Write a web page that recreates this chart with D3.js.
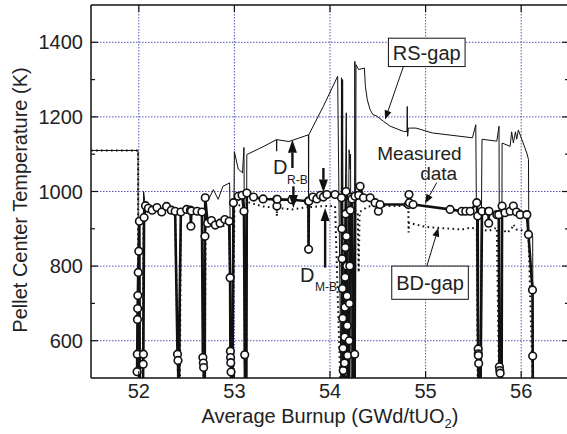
<!DOCTYPE html>
<html>
<head>
<meta charset="utf-8">
<script src="https://cdn.jsdelivr.net/npm/d3@7"></script>
<style>
  body { margin: 0; background: #fff; }
  text { font-family: "Liberation Sans", Arial, Helvetica, sans-serif; fill: #222; }
</style>
</head>
<body>
<div id="chart"></div>
<script>
// ---- data ----
const measuredBurnup = [51.982, 51.984, 51.986, 51.988, 51.990, 51.994, 52.000, 52.006, 52.010, 52.044, 52.046, 52.048, 52.055, 52.070, 52.100, 52.140, 52.190, 52.240, 52.290, 52.340, 52.380, 52.405, 52.410, 52.415, 52.440, 52.500, 52.540, 52.545, 52.550, 52.610, 52.660, 52.670, 52.675, 52.678, 52.682, 52.690, 52.692, 52.695, 52.720, 52.760, 52.800, 52.850, 52.900, 52.945, 52.955, 52.958, 52.960, 52.962, 52.965, 52.970, 52.980, 52.990, 53.040, 53.080, 53.100, 53.108, 53.112, 53.125, 53.130, 53.200, 53.300, 53.444, 53.445, 53.448, 53.600, 53.774, 53.776, 53.779, 53.820, 53.862, 53.900, 53.931, 53.967, 54.053, 54.120, 54.124, 54.127, 54.130, 54.133, 54.136, 54.138, 54.140, 54.150, 54.152, 54.154, 54.156, 54.158, 54.160, 54.164, 54.168, 54.172, 54.175, 54.178, 54.181, 54.184, 54.188, 54.198, 54.201, 54.204, 54.207, 54.212, 54.220, 54.230, 54.240, 54.255, 54.258, 54.262, 54.300, 54.315, 54.350, 54.420, 54.472, 54.506, 54.524, 54.820, 54.826, 54.830, 54.869, 55.256, 55.379, 55.420, 55.466, 55.535, 55.545, 55.550, 55.551, 55.552, 55.555, 55.560, 55.575, 55.590, 55.657, 55.660, 55.663, 55.745, 55.765, 55.772, 55.776, 55.780, 55.785, 55.795, 55.800, 55.830, 55.884, 55.918, 55.950, 55.989, 56.059, 56.076, 56.118, 56.120, 56.122];
const measuredTemp = [517, 564, 657, 686, 721, 783, 840, 920, 470, 470, 537, 564, 930, 962, 955, 950, 957, 945, 960, 950, 947, 564, 547, 470, 945, 952, 950, 907, 948, 947, 945, 555, 540, 528, 470, 470, 880, 983, 915, 922, 910, 915, 925, 920, 769, 572, 555, 541, 516, 470, 470, 970, 987, 990, 947, 562, 470, 470, 996, 985, 980, 979, 961, 979, 978, 974, 845, 974, 985, 980, 990, 985, 992, 992, 983, 900, 820, 740, 660, 580, 520, 470, 470, 540, 610, 690, 770, 850, 940, 1000, 880, 800, 720, 640, 560, 470, 470, 600, 700, 800, 950, 985, 980, 470, 470, 564, 987, 990, 1014, 983, 983, 970, 947, 965, 965, 992, 970, 965, 952, 947, 947, 947, 970, 934, 578, 565, 560, 539, 470, 470, 947, 947, 915, 947, 938, 938, 530, 520, 513, 470, 470, 961, 943, 947, 961, 945, 938, 938, 885, 736, 559, 470];

const rsBurnup = [51.500, 51.992, 51.995, 52.040, 52.050, 52.070, 52.150, 52.250, 52.340, 52.380, 52.412, 52.430, 52.440, 52.600, 52.660, 52.680, 52.690, 52.700, 52.730, 52.780, 52.830, 52.880, 52.950, 52.955, 52.965, 52.980, 53.000, 53.040, 53.085, 53.100, 53.112, 53.122, 53.130, 53.300, 53.440, 53.442, 53.444, 53.570, 53.774, 53.776, 53.778, 53.930, 54.080, 54.115, 54.120, 54.126, 54.132, 54.140, 54.170, 54.176, 54.180, 54.200, 54.210, 54.215, 54.222, 54.255, 54.260, 54.266, 54.272, 54.300, 54.360, 54.370, 54.390, 54.420, 54.450, 54.490, 54.560, 54.630, 54.770, 54.805, 54.808, 54.812, 54.820, 54.900, 55.070, 55.490, 55.525, 55.545, 55.570, 55.590, 55.745, 55.768, 55.775, 55.795, 55.800, 55.884, 55.900, 55.918, 55.940, 55.953, 55.970, 56.006, 56.059, 56.076, 56.080, 56.120, 56.125];
const rsTemp = [1110, 1110, 470, 470, 1000, 960, 955, 950, 955, 950, 470, 470, 950, 950, 945, 470, 470, 975, 979, 1005, 979, 1014, 1023, 935, 470, 470, 1107, 1060, 1050, 1118, 470, 470, 1099, 1120, 1139, 1108, 1139, 1134, 1152, 985, 1152, 1228, 1309, 470, 1305, 470, 1300, 470, 1211, 980, 470, 1112, 1060, 1100, 470, 470, 1349, 470, 1340, 1327, 1331, 1282, 1246, 1219, 1206, 1202, 1188, 1175, 1161, 1161, 1228, 1148, 1170, 1170, 1157, 1144, 1179, 470, 470, 1140, 1135, 1175, 470, 470, 1130, 1121, 1160, 1130, 1160, 1140, 1165, 1140, 1103, 1086, 890, 880, 470];

const bdBurnup = [51.500, 51.992, 51.995, 52.040, 52.050, 52.150, 52.250, 52.380, 52.412, 52.430, 52.440, 52.660, 52.680, 52.690, 52.700, 52.750, 52.850, 52.945, 52.965, 52.980, 53.000, 53.100, 53.112, 53.122, 53.130, 53.300, 53.442, 53.444, 53.446, 53.600, 53.772, 53.775, 53.778, 53.930, 54.053, 54.110, 54.165, 54.168, 54.175, 54.255, 54.262, 54.290, 54.300, 54.310, 54.400, 54.520, 54.820, 54.822, 54.826, 55.000, 55.380, 55.470, 55.535, 55.545, 55.570, 55.590, 55.657, 55.745, 55.770, 55.795, 55.800, 55.850, 55.900, 55.918, 55.950, 55.989, 56.059, 56.076, 56.122];
const bdTemp = [1110, 1110, 470, 470, 955, 950, 945, 945, 470, 470, 943, 940, 470, 470, 915, 905, 905, 912, 470, 470, 960, 965, 470, 470, 972, 960, 956, 934, 956, 952, 958, 835, 958, 961, 961, 470, 470, 960, 470, 470, 950, 943, 783, 945, 960, 961, 961, 890, 916, 905, 898, 903, 900, 470, 470, 898, 894, 903, 470, 470, 900, 889, 900, 912, 898, 898, 889, 885, 470];

const xTicks = [52, 53, 54, 55, 56];
const yTicks = [600, 800, 1000, 1200, 1400];
const yMinorTicks = [700, 900, 1100, 1300];

// ---- layout ----
const W = 567, H = 434;
const plot = { left: 91, right: 569, top: 5, bottom: 378 };

const svg = d3.select("#chart").append("svg")
    .attr("width", W)
    .attr("height", H);

const x = d3.scaleLinear().domain([51.5, 56.5]).range([plot.left, plot.right]);
const y = d3.scaleLinear().domain([500, 1500]).range([plot.bottom, plot.top]);

svg.append("clipPath").attr("id", "clip")
    .append("rect")
    .attr("x", plot.left).attr("y", plot.top)
    .attr("width", plot.right - plot.left).attr("height", plot.bottom - plot.top);

// grid
const gridColor = "#4444b0";
svg.append("g").selectAll("line").data(xTicks).enter().append("line")
    .attr("x1", d => x(d)).attr("x2", d => x(d))
    .attr("y1", plot.top).attr("y2", plot.bottom)
    .attr("stroke", gridColor).attr("stroke-width", 0.9)
    .attr("stroke-dasharray", "1.5,1.5");
svg.append("g").selectAll("line").data(yTicks).enter().append("line")
    .attr("x1", plot.left).attr("x2", plot.right)
    .attr("y1", d => y(d)).attr("y2", d => y(d))
    .attr("stroke", gridColor).attr("stroke-width", 0.9)
    .attr("stroke-dasharray", "1.5,1.5");

// series
const pts = (xs, ys) => xs.map((b, i) => [b, ys[i]]);
const line = d3.line().x(d => x(d[0])).y(d => y(d[1]));
const data = svg.append("g").attr("clip-path", "url(#clip)");

data.append("path")
    .datum(pts(rsBurnup, rsTemp))
    .attr("d", line)
    .attr("fill", "none").attr("stroke", "#111").attr("stroke-width", 1);

data.append("path")
    .datum(pts(bdBurnup, bdTemp))
    .attr("d", line)
    .attr("fill", "none").attr("stroke", "#111").attr("stroke-width", 2)
    .attr("stroke-dasharray", "1.6,3.4");

const meas = pts(measuredBurnup, measuredTemp);
data.append("path")
    .datum(meas)
    .attr("d", line)
    .attr("fill", "none").attr("stroke", "#111").attr("stroke-width", 2.6)
    .attr("stroke-linejoin", "round");

data.selectAll(".meas-dot").data(meas).enter().append("circle")
    .attr("class", "meas-dot")
    .attr("cx", d => x(d[0])).attr("cy", d => y(d[1]))
    .attr("r", 3.8)
    .attr("fill", "#fff").attr("stroke", "#111").attr("stroke-width", 1.6);

// frame + ticks
const frame = svg.append("g").attr("stroke", "#111");
frame.append("line").attr("x1", plot.left).attr("x2", plot.right).attr("y1", plot.top).attr("y2", plot.top).attr("stroke-width", 1.5);
frame.append("line").attr("x1", plot.left).attr("x2", plot.right).attr("y1", plot.bottom).attr("y2", plot.bottom).attr("stroke-width", 1.5);
frame.append("line").attr("x1", plot.left).attr("x2", plot.left).attr("y1", plot.top).attr("y2", plot.bottom).attr("stroke-width", 1.5);
frame.append("line").attr("x1", plot.right).attr("x2", plot.right).attr("y1", plot.top).attr("y2", plot.bottom).attr("stroke-width", 1.5);

xTicks.forEach(t => {
    frame.append("line").attr("x1", x(t)).attr("x2", x(t)).attr("y1", plot.bottom).attr("y2", plot.bottom - 7).attr("stroke-width", 1.2);
    frame.append("line").attr("x1", x(t)).attr("x2", x(t)).attr("y1", plot.top).attr("y2", plot.top + 7).attr("stroke-width", 1.2);
});
yTicks.forEach(t => {
    frame.append("line").attr("x1", plot.left).attr("x2", plot.left + 7).attr("y1", y(t)).attr("y2", y(t)).attr("stroke-width", 1.2);
    frame.append("line").attr("x1", plot.right).attr("x2", plot.right - 7).attr("y1", y(t)).attr("y2", y(t)).attr("stroke-width", 1.2);
});
yMinorTicks.forEach(t => {
    frame.append("line").attr("x1", plot.left).attr("x2", plot.left + 4).attr("y1", y(t)).attr("y2", y(t)).attr("stroke-width", 1.2);
    frame.append("line").attr("x1", plot.right).attr("x2", plot.right - 4).attr("y1", y(t)).attr("y2", y(t)).attr("stroke-width", 1.2);
});

// tick labels
svg.append("g").selectAll("text").data(xTicks).enter().append("text")
    .attr("x", d => x(d)).attr("y", plot.bottom + 20)
    .attr("text-anchor", "middle").attr("font-size", 20)
    .text(d => d);
svg.append("g").selectAll("text").data(yTicks).enter().append("text")
    .attr("x", plot.left - 8).attr("y", d => y(d) + 7)
    .attr("text-anchor", "end").attr("font-size", 20)
    .text(d => d);

// axis titles
const xt = svg.append("text")
    .attr("x", 330).attr("y", 423)
    .attr("text-anchor", "middle").attr("font-size", 20);
xt.append("tspan").text("Average Burnup (GWd/tUO");
xt.append("tspan").attr("font-size", 13).attr("dy", 5).text("2");
xt.append("tspan").attr("dy", -5).text(")");

svg.append("text")
    .attr("transform", "translate(27,200) rotate(-90)")
    .attr("text-anchor", "middle").attr("font-size", 20)
    .text("Pellet Center Temperature (K)");

// ---- annotations ----
const ann = svg.append("g");

function arrow(b1, t1, b2, t2, w, headLen, headW) {
    const x1 = x(b1), y1 = y(t1), x2 = x(b2), y2 = y(t2);
    const dx = x2 - x1, dy = y2 - y1, len = Math.hypot(dx, dy);
    const ux = dx / len, uy = dy / len;
    const bx = x2 - ux * headLen, by = y2 - uy * headLen;
    ann.append("line").attr("x1", x1).attr("y1", y1).attr("x2", bx).attr("y2", by)
        .attr("stroke", "#111").attr("stroke-width", w);
    ann.append("path")
        .attr("d", `M${x2},${y2}L${bx - uy * headW / 2},${by + ux * headW / 2}L${bx + uy * headW / 2},${by - ux * headW / 2}Z`)
        .attr("fill", "#111");
}

function boxLabel(b1, t1, b2, t2, label, bc, tb) {
    ann.append("rect")
        .attr("x", x(b1)).attr("y", y(t1))
        .attr("width", x(b2) - x(b1)).attr("height", y(t2) - y(t1))
        .attr("fill", "#fff").attr("stroke", "#111").attr("stroke-width", 1);
    ann.append("text")
        .attr("x", x(bc)).attr("y", y(tb))
        .attr("text-anchor", "middle").attr("font-size", 20)
        .text(label);
}

// RS-gap
arrow(54.768, 1335, 54.576, 1193, 1, 9, 7);
boxLabel(54.611, 1411, 55.413, 1335, "RS-gap", 55.012, 1353);

// Measured data
ann.append("text").attr("x", x(54.493)).attr("y", y(1085)).attr("font-size", 19).text("Measured");
ann.append("text").attr("x", x(54.943)).attr("y", y(1032)).attr("font-size", 19).text("data");
arrow(55.117, 1024, 54.995, 968, 1, 9, 7);

// BD-gap
arrow(55.013, 800, 55.134, 903, 1, 9, 7);
boxLabel(54.646, 800, 55.447, 711, "BD-gap", 55.047, 736);

// D R-B
arrow(53.607, 1063, 53.607, 1139, 2.4, 13, 9);
arrow(53.617, 1014, 53.617, 956, 2.4, 13, 9);
ann.append("text").attr("x", x(53.405)).attr("y", y(1046)).attr("font-size", 20).text("D");
ann.append("text").attr("x", x(53.551)).attr("y", y(1021)).attr("font-size", 12).text("R-B");

// D M-B
arrow(53.931, 1063, 53.931, 997, 2.4, 13, 9);
arrow(53.949, 796, 53.949, 956, 2.4, 13, 9);
ann.append("text").attr("x", x(53.687)).attr("y", y(758)).attr("font-size", 20).text("D");
ann.append("text").attr("x", x(53.844)).attr("y", y(733)).attr("font-size", 12).text("M-B");
</script>
</body>
</html>
